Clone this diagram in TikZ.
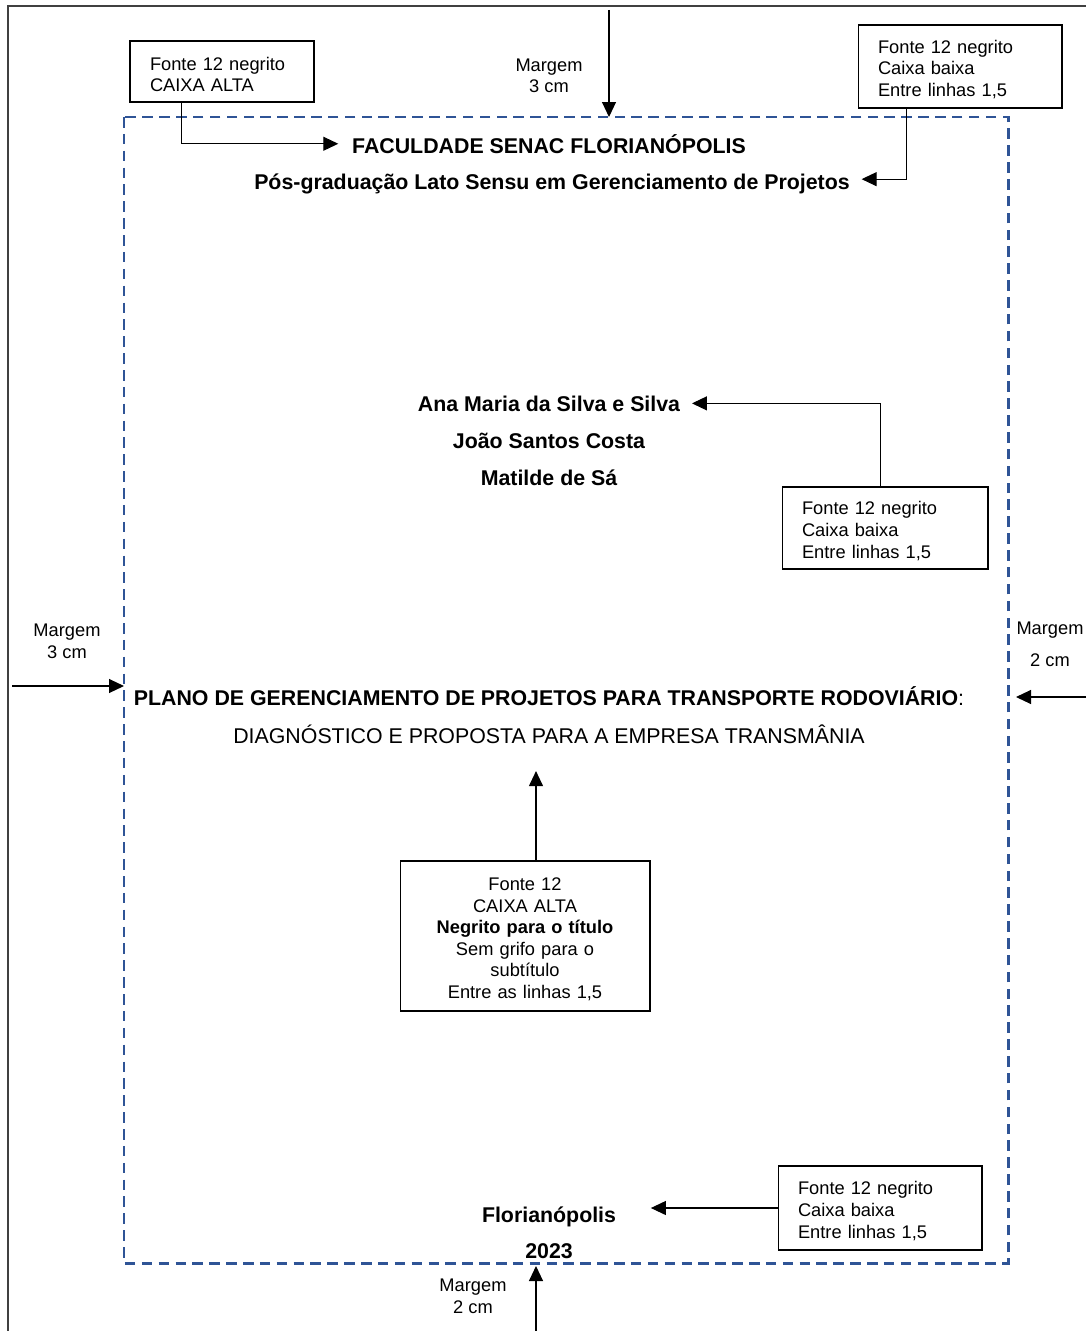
\documentclass[tikz,border=0pt]{standalone}
\usepackage{fontspec}
\setmainfont{Liberation Sans}
\usetikzlibrary{arrows.meta, positioning, calc}
\definecolor{MargBlue}{RGB}{47, 84, 150}
\definecolor{FrameGray}{RGB}{64, 64, 64}

\begin{document}
\begin{tikzpicture}[x=0.02cm, y=-0.02cm,
        note/.style={rectangle, draw, line width=0.6pt, inner xsep=0.4cm, inner ysep=0pt, align=left, font=\fontsize{10.4}{12.3}\selectfont, execute at begin node={\rule{0pt}{11pt}}},
        line/.style={anchor=base, inner sep=2pt, font=\fontsize{12.15}{14}\selectfont\bfseries},
        marg/.style={align=center, inner sep=1pt, font=\fontsize{10.4}{12.3}\selectfont},
        arrow/.style={-{Triangle[length=0.3cm, width=0.28cm]}, line width=0.6pt}
    ]
    \useasboundingbox (0,0) rectangle (1086,1331);
    \draw[FrameGray, line width=0.8pt] (8,1331) -- (8,6) -- (1086,6);
    \draw[MargBlue, line width=1.7pt, dash pattern=on 6pt off 3.6pt] (124,117) rectangle (1008,1263);

    \node[line] (fac) at (549,154) {FACULDADE SENAC FLORIANÓPOLIS};
    \node[line] (pos) at (552,190) {Pós-graduação Lato Sensu em Gerenciamento de Projetos};
    \node[line] (ana) at (549,411) {Ana Maria da Silva e Silva};
    \node[line] (joao) at (549,448) {João Santos Costa};
    \node[line] (matilde) at (549,485) {Matilde de Sá};
    \node[line] (title) at (549,705) {PLANO DE GERENCIAMENTO DE PROJETOS PARA TRANSPORTE RODOVIÁRIO{\mdseries :}};
    \node[line, font=\fontsize{12.15}{14}\selectfont] (subtitle) at (549,743) {DIAGNÓSTICO E PROPOSTA PARA A EMPRESA TRANSMÂNIA};
    \node[line] (city) at (549,1222) {Florianópolis};
    \node[line] (year) at (549,1258) {2023};

    \node[note, text width=2.88cm, minimum height=1.22cm] (box1) at (222,71.5) {Fonte 12 negrito\\CAIXA ALTA};
    \node[note, text width=3.28cm, minimum height=1.66cm] (box2) at (960,66.5) {Fonte 12 negrito\\Caixa baixa\\Entre linhas 1,5};
    \node[note, text width=3.32cm, minimum height=1.64cm] (box3) at (885,528) {Fonte 12 negrito\\Caixa baixa\\Entre linhas 1,5};
    \node[note, align=center, text width=4.2cm, minimum height=3cm] (box4) at (525,936) {Fonte 12\\CAIXA ALTA\\\textbf{Negrito para o título}\\Sem grifo para o\\subtítulo\\Entre as linhas 1,5};
    \node[note, text width=3.28cm, minimum height=1.68cm] (box5) at (880,1208) {Fonte 12 negrito\\Caixa baixa\\Entre linhas 1,5};

    \node[marg] (mtop) at (549,76) {Margem\\3 cm};
    \node[marg] (mleft) at (67,641) {Margem\\3 cm};
    \node[marg] (mright) at (1050,644) {Margem\\[6pt]2 cm};
    \node[marg] (mbottom) at (473,1296) {Margem\\2 cm};

    \coordinate (ptop) at (609,10);
    \coordinate (etop) at (609,117);
    \coordinate (pleft) at (12,686);
    \coordinate (eleft) at (124,686);
    \coordinate (pright) at (1086,697);
    \coordinate (eright) at (1016,697);
    \coordinate (pbottom) at (536,1331);
    \coordinate (ebottom) at (536,1266);
    \coordinate[right=0.62cm of city.east] (citytip);
    \coordinate[below=0.48cm of subtitle.south] (subtip);

    \draw[arrow] (ptop) -- (etop);
    \draw[arrow] (pleft) -- (eleft);
    \draw[arrow] (pright) -- (eright);
    \draw[arrow] (pbottom) -- (ebottom);
    \draw[arrow] ([xshift=1.04cm]box1.south west) |- ([xshift=-0.2cm, yshift=0.5pt]fac.west);
    \draw[arrow] ([xshift=0.98cm]box2.south west) |- ([xshift=0.16cm, yshift=3pt]pos.east);
    \draw[arrow] ([xshift=1.98cm]box3.north west) |- ([xshift=0.16cm]ana.east);
    \draw[arrow] ([xshift=0.22cm]box4.north) -- ([xshift=0.22cm]box4.north |- subtip);
    \draw[arrow] (box5.west) -- (box5.west -| citytip);
\end{tikzpicture}
\end{document}
